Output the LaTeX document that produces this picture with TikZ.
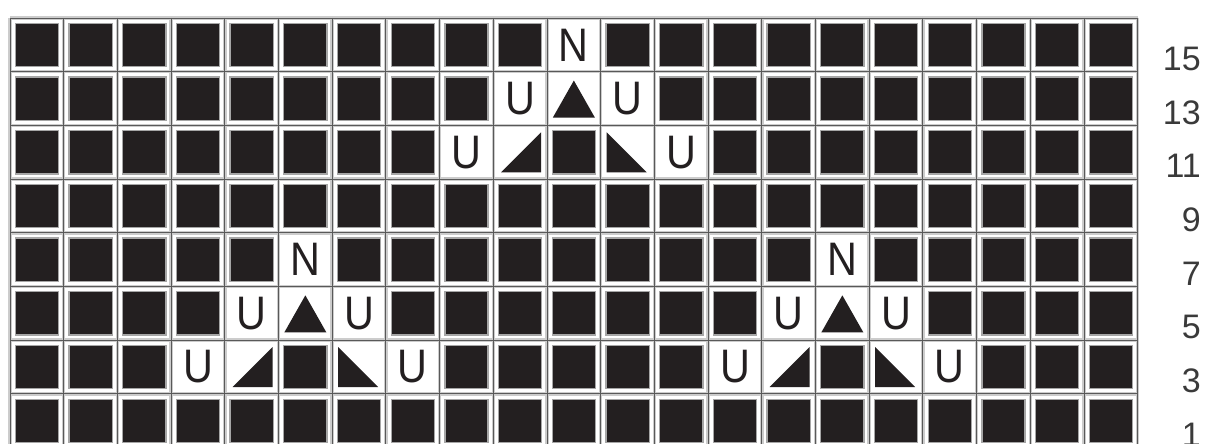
\documentclass[tikz,border=0pt]{standalone}
\usepackage{fontspec}
\setmainfont{Liberation Sans}
\newfontfamily\cellfont[FakeStretch=0.88]{Liberation Sans}
\definecolor{ink}{HTML}{231F20}
\definecolor{labgray}{HTML}{3A3A3A}
\tikzset{
  blk/.style={draw=gray!70, line width=1.3pt, fill=ink, minimum size=43.2pt, inner sep=0pt, outer sep=0pt},
  letter/.style={fill=white, minimum size=46pt, inner sep=0pt, font=\cellfont\fontsize{47}{47}\selectfont, text=ink},
  blank/.style={fill=white, minimum size=46pt, inner sep=0pt},
  rowlab/.style={font=\fontsize{34}{34}\selectfont, text=labgray, anchor=east, inner sep=0pt},
  halo/.style={line width=3.5pt, draw=gray!40},
  core/.style={line width=0.9pt, draw=gray!70!black},
}
\begin{document}
\begin{tikzpicture}[x=1pt,y=-1pt]
\useasboundingbox (0,0) rectangle (1207,444);
\clip (0,0) rectangle (1207,444);
\fill[white] (0,0) rectangle (1207,444);
% black squares
\foreach \r in {0,...,7}{
  \foreach \c in {0,...,20}{
    \node[blk] (b-\r-\c) at ({10+(\c+0.5)*53.7},{18+(\r+0.5)*53.7}) {};
  }
}
% grid lines
\foreach \i in {0,...,21}{
  \draw[halo] ({10+\i*53.7},18) -- ({10+\i*53.7},448);
}
\foreach \j in {0,...,8}{
  \draw[halo] (10,{18+\j*53.7}) -- (1138,{18+\j*53.7});
}
\foreach \i in {0,...,21}{
  \draw[core] ({10+\i*53.7},18) -- ({10+\i*53.7},448);
}
\foreach \j in {0,...,8}{
  \draw[core] (10,{18+\j*53.7}) -- (1138,{18+\j*53.7});
}
% letters
\foreach \r/\c/\t in {0/10/N, 1/9/U, 1/11/U, 2/8/U, 2/12/U,
  4/5/N, 4/15/N, 5/4/U, 5/6/U, 5/14/U, 5/16/U,
  6/3/U, 6/7/U, 6/13/U, 6/17/U}{
  \node[letter] (n-\r-\c) at ({10+(\c+0.5)*53.7},{18+(\r+0.5)*53.7}) {\t};
}
% up triangles
\foreach \r/\c in {1/10, 5/5, 5/15}{
  \node[blank] (t-\r-\c) at ({10+(\c+0.5)*53.7},{18+(\r+0.5)*53.7}) {};
  \fill[ink] (t-\r-\c.center) +(-21,19) -- +(21,19) -- +(0,-18) -- cycle;
}
% left-rising triangles
\foreach \r/\c in {2/9, 6/4, 6/14}{
  \node[blank] (l-\r-\c) at ({10+(\c+0.5)*53.7},{18+(\r+0.5)*53.7}) {};
  \fill[ink] (l-\r-\c.center) +(-19,20) -- +(21,20) -- +(21,-20) -- cycle;
}
% right-falling triangles
\foreach \r/\c in {2/11, 6/6, 6/16}{
  \node[blank] (r-\r-\c) at ({10+(\c+0.5)*53.7},{18+(\r+0.5)*53.7}) {};
  \fill[ink] (r-\r-\c.center) +(-21,-20) -- +(-21,20) -- +(19,20) -- cycle;
}
% row labels
\foreach \r in {0,...,7}{
  \pgfmathtruncatemacro{\lab}{15-2*\r}
  \node[rowlab] (lab-\r) at (1201,{18+(\r+0.5)*53.7+14}) {\lab};
}
\end{tikzpicture}
\end{document}
